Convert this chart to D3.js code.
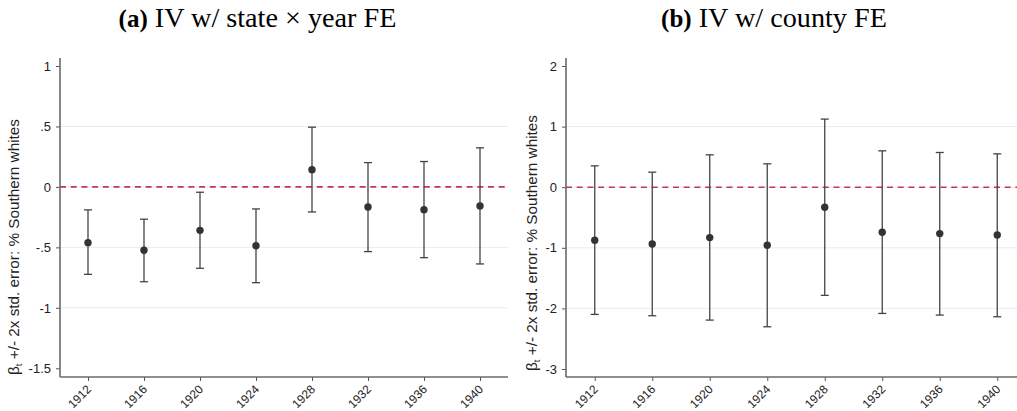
<!DOCTYPE html>
<html>
<head>
<meta charset="utf-8">
<script src="https://cdn.jsdelivr.net/npm/d3@7"></script>
<style>
  html, body { margin: 0; padding: 0; background: #fff; }
  svg { display: block; }
  .tick text { font-family: "Liberation Sans", Arial, sans-serif; }
</style>
</head>
<body>
<svg id="chart" width="1017" height="411"></svg>
<script>
// Event-study coefficients with +/- 2 s.e. bands, by election year
const years = [1912, 1916, 1920, 1924, 1928, 1932, 1936, 1940];

// Panel (a): IV with state x year fixed effects
const coefA = [-0.461, -0.524, -0.359, -0.486, 0.143, -0.166, -0.188, -0.157];
const lowA  = [-0.723, -0.784, -0.673, -0.792, -0.207, -0.535, -0.585, -0.637];
const highA = [-0.190, -0.267, -0.044, -0.182, 0.494, 0.201, 0.210, 0.323];
const ticksA = [-1.5, -1, -0.5, 0, 0.5, 1];
const tickLabelsA = ["-1.5", "-1", "-.5", "0", ".5", "1"];

// Panel (b): IV with county fixed effects
const coefB = [-0.876, -0.937, -0.832, -0.959, -0.331, -0.744, -0.766, -0.788];
const lowB  = [-2.099, -2.121, -2.193, -2.303, -1.785, -2.083, -2.110, -2.138];
const highB = [0.352, 0.248, 0.534, 0.386, 1.124, 0.600, 0.573, 0.550];
const ticksB = [-3, -2, -1, 0, 1, 2];
const tickLabelsB = ["-3", "-2", "-1", "0", "1", "2"];

const xDomain = [1910, 1942];

const svg = d3.select("#chart");

function panel(opts) {
  const { left, right, top, bottom, tickTop, tickBottom, ticks, tickLabels,
          coef, low, high, title, tag, titleX, labelX, labelY } = opts;

  const g = svg.append("g");

  const x = d3.scaleLinear().domain(xDomain).range([left, right]);
  const y = d3.scaleLinear()
    .domain([ticks[0], ticks[ticks.length - 1]])
    .range([tickBottom, tickTop]);

  // light gridlines at interior ticks
  g.append("g").selectAll("line")
    .data(ticks.slice(1, -1))
    .join("line")
    .attr("x1", left).attr("x2", right)
    .attr("y1", d => y(d)).attr("y2", d => y(d))
    .attr("stroke", "#e4eeee").attr("stroke-width", 1);

  // reference line at zero
  g.append("line")
    .attr("x1", left).attr("x2", right)
    .attr("y1", y(0)).attr("y2", y(0))
    .attr("stroke", "#c8355a").attr("stroke-width", 1.6)
    .attr("stroke-dasharray", "6,4.7");

  // y axis
  const yAxis = d3.axisLeft(y)
    .tickValues(ticks)
    .tickFormat((d, i) => tickLabels[i])
    .tickSize(4).tickPadding(5).tickSizeOuter(0);
  const ya = g.append("g").attr("transform", `translate(${left},0)`).call(yAxis);
  ya.select(".domain").remove();
  ya.selectAll(".tick line").attr("stroke", "#555");
  ya.selectAll(".tick text").attr("font-size", 13).attr("fill", "#222");
  g.append("line")
    .attr("x1", left).attr("x2", left).attr("y1", top).attr("y2", bottom)
    .attr("stroke", "#6a6a6a").attr("stroke-width", 1.6);

  // x axis
  const xAxis = d3.axisBottom(x)
    .tickValues(years)
    .tickFormat(d3.format("d"))
    .tickSize(4).tickSizeOuter(0);
  const xa = g.append("g").attr("transform", `translate(0,${bottom})`).call(xAxis);
  xa.select(".domain").remove();
  xa.selectAll(".tick line").attr("stroke", "#555");
  xa.selectAll(".tick text")
    .attr("font-size", 12).attr("fill", "#222")
    .attr("text-anchor", "end")
    .attr("y", 0).attr("dy", 0)
    .attr("transform", "translate(3.5,13) rotate(-45)");
  g.append("line")
    .attr("x1", left).attr("x2", right).attr("y1", bottom).attr("y2", bottom)
    .attr("stroke", "#6a6a6a").attr("stroke-width", 1.6);

  // error bars
  const bars = g.append("g").selectAll("g")
    .data(years.map((yr, i) => ({ yr, c: coef[i], lo: low[i], hi: high[i] })))
    .join("g");
  bars.append("line")
    .attr("x1", d => x(d.yr)).attr("x2", d => x(d.yr))
    .attr("y1", d => y(d.lo)).attr("y2", d => y(d.hi))
    .attr("stroke", "#444").attr("stroke-width", 1.3);
  bars.selectAll("line.cap")
    .data(d => [{ yr: d.yr, v: d.lo }, { yr: d.yr, v: d.hi }])
    .join("line").attr("class", "cap")
    .attr("x1", d => x(d.yr) - 4).attr("x2", d => x(d.yr) + 4)
    .attr("y1", d => y(d.v)).attr("y2", d => y(d.v))
    .attr("stroke", "#444").attr("stroke-width", 1.3);
  bars.append("circle")
    .attr("cx", d => x(d.yr)).attr("cy", d => y(d.c))
    .attr("r", 3.7).attr("fill", "#333");

  // y axis title
  const yl = g.append("text")
    .attr("transform", `translate(${labelX},${labelY}) rotate(-90)`)
    .attr("text-anchor", "middle")
    .attr("font-family", "Liberation Sans, Arial, sans-serif")
    .attr("font-size", 15.3).attr("fill", "#222");
  yl.append("tspan").text("β");
  yl.append("tspan").attr("font-size", 9.5).attr("dy", 3).text("t");
  yl.append("tspan").attr("dy", -3).text(" +/- 2x std. error: % Southern whites");

  // panel title
  const t = svg.append("text")
    .attr("x", titleX).attr("y", 27)
    .attr("text-anchor", "middle")
    .attr("font-family", "Liberation Serif, Times New Roman, serif")
    .attr("font-size", 28.2).attr("fill", "#000");
  t.append("tspan").attr("font-weight", "bold").attr("font-size", 25).text(tag);
  t.append("tspan").text(" " + title);
}

panel({
  left: 60, right: 508, top: 58, bottom: 377, tickTop: 66, tickBottom: 368.3,
  ticks: ticksA, tickLabels: tickLabelsA, coef: coefA, low: lowA, high: highA,
  tag: "(a)", title: "IV w/ state \u00d7 year FE", titleX: 257.5, labelX: 18.5, labelY: 247
});

panel({
  left: 566, right: 1026, top: 58, bottom: 377, tickTop: 66, tickBottom: 369,
  ticks: ticksB, tickLabels: tickLabelsB, coef: coefB, low: lowB, high: highB,
  tag: "(b)", title: "IV w/ county FE", titleX: 774, labelX: 537, labelY: 243
});
</script>
</body>
</html>
